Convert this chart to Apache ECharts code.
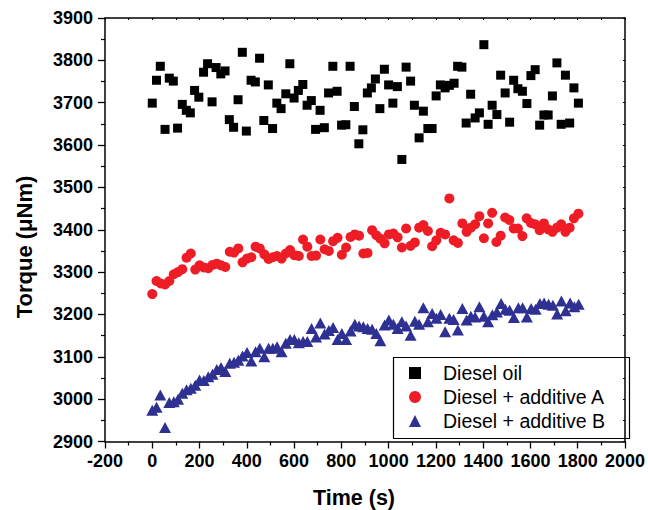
<!DOCTYPE html>
<html>
<head>
<meta charset="utf-8">
<script src="https://cdn.jsdelivr.net/npm/echarts@6/dist/echarts.min.js"></script>
<style>html,body{margin:0;padding:0;background:#fff;}#chart{width:648px;height:510px;}</style>
</head>
<body>
<div id="chart"></div>
<script>
// ---- Data ----
const seriesNames = ['Diesel oil', 'Diesel + additive A', 'Diesel + additive B'];

const dieselTime = [0,18,34,54,72,89,107,127,144,161,179,197,217,234,253,270,290,308,326,344,363,381,398,418,436,454,472,491,509,527,545,565,582,600,618,637,655,673,691,710,728,746,764,782,801,819,837,855,874,891,910,927,944,963,982,1000,1018,1037,1056,1074,1093,1109,1129,1147,1166,1184,1201,1219,1239,1257,1277,1292,1310,1328,1347,1366,1384,1403,1421,1438,1458,1474,1493,1512,1529,1547,1566,1585,1602,1620,1639,1657,1675,1693,1712,1730,1748,1766,1784,1803];
const dieselTorque = [3699,3753,3786,3637,3758,3751,3640,3696,3682,3676,3729,3713,3772,3792,3702,3783,3768,3775,3660,3642,3707,3819,3633,3753,3749,3805,3658,3742,3639,3699,3686,3721,3792,3711,3729,3743,3694,3705,3637,3682,3641,3723,3786,3727,3647,3648,3786,3691,3603,3636,3723,3735,3756,3686,3779,3742,3699,3738,3566,3784,3751,3694,3617,3680,3639,3639,3716,3742,3735,3741,3746,3786,3784,3652,3720,3664,3676,3837,3649,3694,3672,3765,3723,3654,3753,3733,3727,3698,3764,3778,3647,3671,3671,3716,3794,3649,3765,3652,3735,3699];

const addATime = [0,18,36,54,72,91,109,127,145,163,182,200,218,237,255,273,291,309,328,346,364,382,401,419,437,455,474,492,510,528,547,565,583,601,620,638,656,674,693,711,729,747,765,784,802,820,839,857,875,893,911,930,948,965,983,1001,1020,1038,1056,1074,1093,1111,1129,1147,1166,1184,1202,1220,1239,1257,1275,1293,1312,1330,1348,1366,1384,1403,1421,1438,1456,1474,1493,1511,1529,1547,1566,1584,1602,1620,1639,1657,1675,1693,1712,1730,1748,1766,1784,1803];
const addATorque = [3248,3279,3273,3271,3279,3295,3300,3307,3334,3344,3306,3316,3311,3309,3317,3320,3316,3312,3348,3346,3356,3323,3332,3335,3360,3356,3342,3331,3335,3338,3332,3344,3352,3340,3338,3377,3360,3338,3339,3377,3354,3350,3373,3381,3341,3358,3383,3389,3386,3344,3345,3399,3387,3379,3368,3389,3391,3382,3358,3403,3362,3370,3405,3411,3397,3361,3375,3393,3389,3474,3375,3369,3415,3395,3405,3413,3432,3380,3415,3440,3371,3386,3429,3423,3403,3403,3385,3427,3416,3413,3399,3415,3401,3395,3405,3413,3395,3405,3427,3438];

const addBTime = [0,18,34,54,72,91,109,127,145,163,182,200,218,237,255,273,291,309,328,346,364,382,401,419,437,455,474,492,510,528,547,565,583,601,620,638,656,674,693,711,729,747,765,784,802,820,839,857,875,893,911,930,948,965,983,1001,1020,1038,1056,1074,1093,1111,1129,1147,1166,1184,1202,1220,1239,1257,1275,1293,1312,1330,1348,1366,1384,1403,1421,1439,1458,1476,1494,1512,1530,1549,1567,1585,1603,1622,1640,1658,1677,1695,1713,1731,1749,1768,1786,1804];
const addBTorque = [2974,2981,3010,2933,2992,2994,3000,3014,3022,3026,3033,3045,3044,3053,3059,3070,3075,3065,3085,3087,3092,3102,3110,3090,3112,3120,3100,3120,3120,3124,3112,3132,3141,3141,3133,3136,3136,3167,3147,3180,3154,3162,3169,3141,3155,3141,3161,3177,3173,3171,3167,3165,3155,3138,3175,3187,3177,3167,3183,3173,3151,3184,3177,3216,3183,3202,3191,3200,3159,3191,3188,3163,3214,3187,3196,3194,3218,3196,3183,3199,3206,3226,3212,3210,3193,3216,3216,3194,3214,3212,3226,3227,3224,3222,3201,3232,3209,3227,3218,3224];

const xMin = -200, xMax = 2000, xStep = 200;
const yMin = 2900, yMax = 3900, yStep = 100;
const xTitle = 'Time (s)';
const yTitle = 'Torque (\u03bcNm)';

// ---- Build chart ----
function pairs(xs, ys) { return xs.map((x, i) => [x, ys[i]]); }

const FONT = '"Liberation Sans", Arial, Helvetica, sans-serif';
const chart = echarts.init(document.getElementById('chart'), null, { renderer: 'svg' });

const axisLine = { show: true, onZero: false, lineStyle: { color: '#000', width: 1.5 } };
const plain = v => String(v);

const option = {
  backgroundColor: '#fff',
  animation: false,
  grid: { left: 105, right: 20, top: 18, bottom: 68.5, containLabel: false },
  xAxis: [{
    type: 'value', min: xMin, max: xMax, interval: xStep,
    axisLine: axisLine,
    axisTick: { show: true, inside: false, length: 7, lineStyle: { color: '#000', width: 1.3 } },
    minorTick: { show: true, splitNumber: 2, length: 4, lineStyle: { color: '#000', width: 1.2 } },
    axisLabel: { margin: 10, color: '#000', fontFamily: FONT, fontWeight: 'bold', fontSize: 18, formatter: plain },
    splitLine: { show: false }
  }, {
    type: 'value', position: 'top', min: xMin, max: xMax, interval: xStep,
    axisLine: axisLine,
    axisTick: { show: true, inside: true, length: 2, lineStyle: { color: '#000', width: 1 } },
    minorTick: { show: true, splitNumber: 2, length: 2, lineStyle: { color: '#000', width: 1 } },
    axisLabel: { show: false }, splitLine: { show: false }
  }],
  yAxis: [{
    type: 'value', min: yMin, max: yMax, interval: yStep,
    axisLine: axisLine,
    axisTick: { show: true, inside: false, length: 7, lineStyle: { color: '#000', width: 1.3 } },
    minorTick: { show: true, splitNumber: 2, length: 4, lineStyle: { color: '#000', width: 1.2 } },
    axisLabel: { margin: 12, color: '#000', fontFamily: FONT, fontWeight: 'bold', fontSize: 18, formatter: plain },
    splitLine: { show: false }
  }, {
    type: 'value', position: 'right', min: yMin, max: yMax, interval: yStep,
    axisLine: axisLine,
    axisTick: { show: true, inside: true, length: 2, lineStyle: { color: '#000', width: 1 } },
    minorTick: { show: true, splitNumber: 2, length: 2, lineStyle: { color: '#000', width: 1 } },
    axisLabel: { show: false }, splitLine: { show: false }
  }],
  legend: {
    orient: 'vertical', left: 391, top: 355,
    padding: [6, 0, 3, 18],
    itemWidth: 12, itemHeight: 12, itemGap: 0,
    textStyle: { fontFamily: FONT, fontSize: 19.5, color: '#000', lineHeight: 24, padding: [0, 0, 0, 17] },
    data: [
      { name: seriesNames[0], icon: 'rect' },
      { name: seriesNames[1], icon: 'circle' },
      { name: seriesNames[2], icon: 'triangle' }
    ]
  },
  graphic: [
    { type: 'rect', left: 391, top: 355, shape: { width: 236, height: 81 }, style: { fill: 'none', stroke: '#000', lineWidth: 1.2 }, z: 100, silent: true },
    { type: 'text', x: 354, y: 498, style: { text: xTitle, font: 'bold 21.5px ' + FONT, fill: '#000', textAlign: 'center', textVerticalAlign: 'middle' } },
    { type: 'text', x: 24, y: 247, rotation: Math.PI / 2, style: { text: yTitle, font: 'bold 22px ' + FONT, fill: '#000', textAlign: 'center', textVerticalAlign: 'middle' } }
  ],
  series: [
    { name: seriesNames[0], type: 'scatter', symbol: 'rect', symbolSize: 9, itemStyle: { color: '#000', opacity: 1 }, data: pairs(dieselTime, dieselTorque) },
    { name: seriesNames[1], type: 'scatter', symbol: 'circle', symbolSize: 10, itemStyle: { color: '#ee1d25', opacity: 1 }, data: pairs(addATime, addATorque) },
    { name: seriesNames[2], type: 'scatter', symbol: 'triangle', symbolSize: [12, 11], itemStyle: { color: '#2e3192', opacity: 1 }, data: pairs(addBTime, addBTorque) }
  ]
};
chart.setOption(option);
</script>
</body>
</html>
